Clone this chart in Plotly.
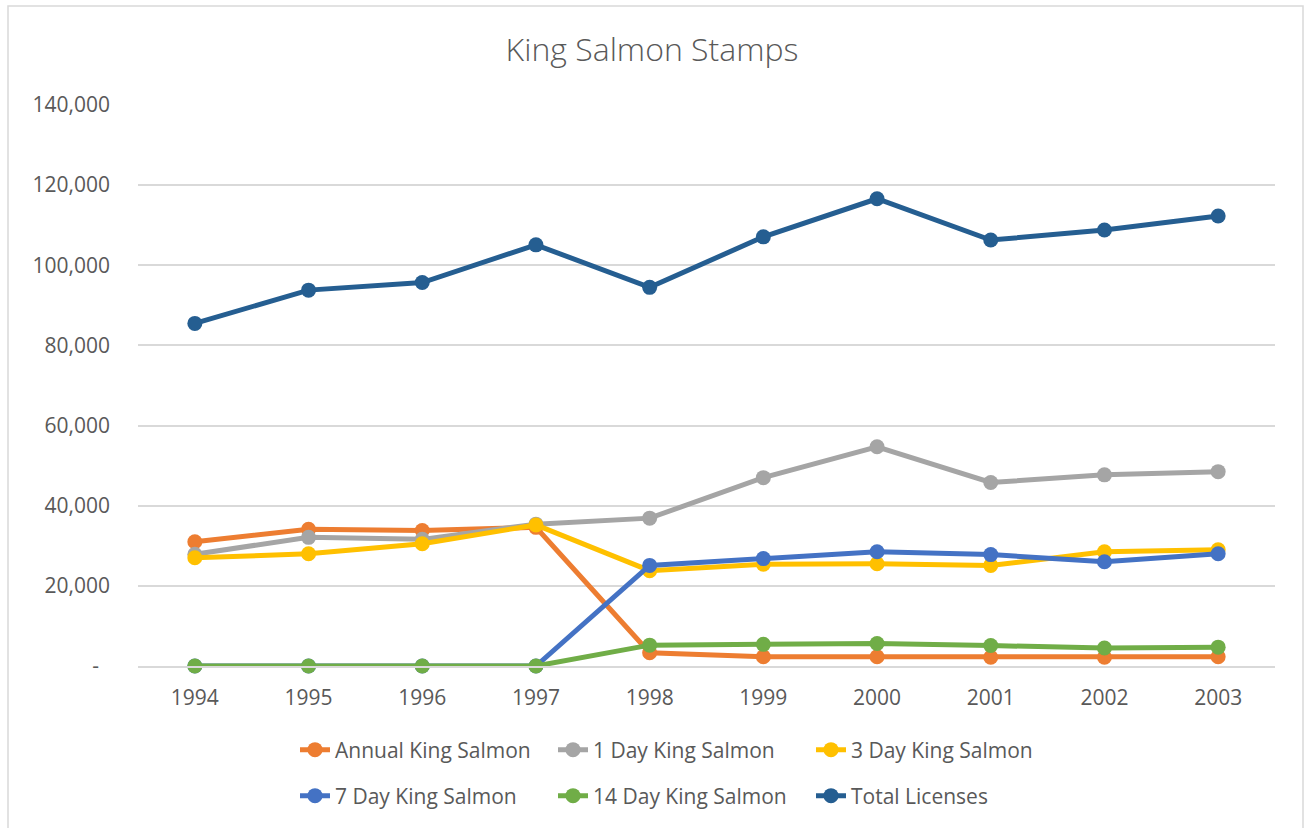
import plotly.graph_objects as go

years = ["1994", "1995", "1996", "1997", "1998", "1999", "2000", "2001", "2002", "2003"]

annual_king = [31000, 34100, 33800, 34600, 3300, 2300, 2300, 2200, 2200, 2300]
one_day_king = [27900, 32100, 31600, 35400, 36900, 47000, 54700, 45800, 47700, 48500]
three_day_king = [27000, 28000, 30500, 35200, 23800, 25400, 25500, 25100, 28500, 29000]
seven_day_king = [0, 0, 0, 0, 25100, 26800, 28500, 27800, 26000, 28000]
fourteen_day_king = [0, 0, 0, 0, 5200, 5400, 5600, 5100, 4500, 4700]
total_licenses = [85500, 93800, 95700, 105100, 94500, 107100, 116600, 106300, 108800, 112300]

series_names = ["Annual King Salmon", "1 Day King Salmon", "3 Day King Salmon",
                "7 Day King Salmon", "14 Day King Salmon", "Total Licenses"]
series_values = [annual_king, one_day_king, three_day_king,
                 seven_day_king, fourteen_day_king, total_licenses]
colors = ["#ED7D31", "#A5A5A5", "#FFC000", "#4472C4", "#70AD47", "#255E91"]
legend_ids = ["legend", "legend", "legend", "legend2", "legend2", "legend2"]

y_tickvals = [0, 20000, 40000, 60000, 80000, 100000, 120000, 140000]
y_ticktext = ["-\u00a0\u00a0", "20,000", "40,000", "60,000", "80,000", "100,000", "120,000", "140,000"]

FONT = "Open Sans"
TXT = "#595959"

W, H = 1304, 828
L, R, T, B = 138, 1275, 105, 666
pw, ph = R - L, B - T

def px_x(p):
    return (p - L) / pw

def px_y(p):
    return (B - p) / ph

fig = go.Figure()
for name, vals, col, lg in zip(series_names, series_values, colors, legend_ids):
    fig.add_trace(go.Scatter(
        x=years, y=vals, name=name, mode="lines+markers",
        line=dict(color=col, width=5),
        marker=dict(color=col, size=15),
        legend=lg, cliponaxis=False,
    ))

legend_common = dict(
    orientation="h", xanchor="left", yanchor="middle",
    font=dict(family=FONT, size=21, color=TXT),
    entrywidth=213, entrywidthmode="pixels",
    bgcolor="rgba(0,0,0,0)", borderwidth=0, itemclick=False,
)

fig.update_layout(
    width=W, height=H,
    margin=dict(l=L, r=W - R, t=T, b=H - B, pad=0),
    paper_bgcolor="white", plot_bgcolor="white",
    title=dict(text="King Salmon Stamps", x=652 / W, xanchor="center",
               xref="container", y=1 - 50 / H, yanchor="middle",
               font=dict(family=FONT, size=32, color=TXT, weight=300)),
    legend=dict(x=px_x(295), y=px_y(750), **legend_common),
    legend2=dict(x=px_x(295), y=px_y(796), **legend_common),
    showlegend=True,
    xaxis=dict(type="category", range=[-0.5, 9.5], showgrid=False,
               showline=True, linecolor="#D9D9D9", linewidth=1.5,
               ticks="", tickfont=dict(family=FONT, size=21, color=TXT),
               ticklabelstandoff=12, zeroline=False),
    yaxis=dict(range=[0, 140000], tickvals=y_tickvals, ticktext=y_ticktext,
               showgrid=True, gridcolor="#D9D9D9", gridwidth=1.5,
               zeroline=False, showline=False, ticks="",
               tickfont=dict(family=FONT, size=21, color=TXT),
               ticklabelstandoff=27),
    shapes=[dict(type="rect", xref="paper", yref="paper",
                 x0=px_x(8), x1=px_x(1303), y0=px_y(835), y1=px_y(6),
                 line=dict(color="#D9D9D9", width=1.5), layer="below")],
)

fig.write_html("out.html", config={"displayModeBar": False},
               post_script="document.body.style.margin='0';document.body.style.overflow='hidden';")
